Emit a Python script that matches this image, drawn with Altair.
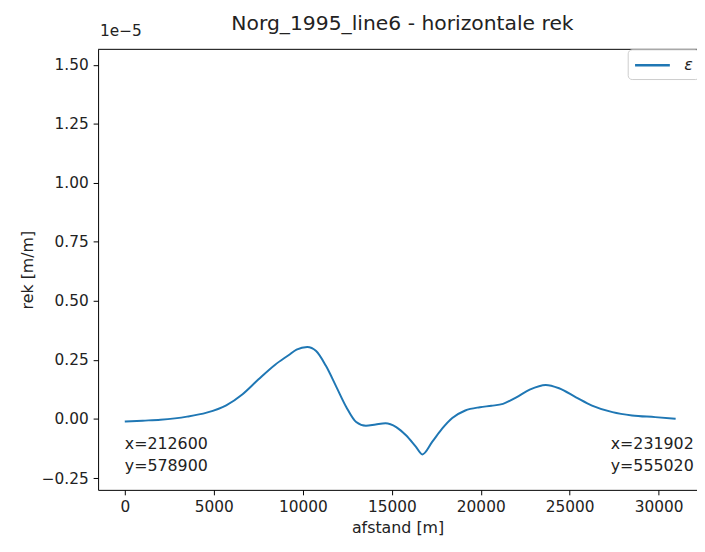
import altair as alt
import pandas as pd

# ---- data ----
distance = [0, 1000, 2000, 3500, 4600, 5700, 6600, 7500, 8450, 9200, 9650, 10250,
            10750, 11300, 11900, 12450, 13000, 13550, 14100, 14650, 15250, 15800,
            16350, 16720, 17280, 17830, 18400, 19130, 19950, 20600, 21250, 22000,
            22750, 23650, 24400, 25350, 26250, 27400, 28500, 29800, 30950]
strain = [-0.011, -0.007, -0.003, 0.010, 0.027, 0.058, 0.104, 0.167, 0.230, 0.270,
          0.294, 0.305, 0.288, 0.225, 0.134, 0.050, -0.013, -0.029, -0.023, -0.018,
          -0.034, -0.069, -0.117, -0.150, -0.096, -0.041, 0.004, 0.036, 0.050, 0.056,
          0.064, 0.092, 0.124, 0.144, 0.130, 0.092, 0.057, 0.029, 0.015, 0.008, 0.001]
series_name = "ε"

x_ticks = [0, 5000, 10000, 15000, 20000, 25000, 30000]
y_ticks = [-0.25, 0.0, 0.25, 0.5, 0.75, 1.0, 1.25, 1.5]

ann_x = [0, 27300]
ann_y = [-0.074, -0.074]
ann_text = ["x=212600\ny=578900", "x=231902\ny=555020"]

offset_label = ["1e\u22125"]
title_text = "Norg_1995_line6 - horizontale rek"

FONT = "DejaVu Sans"
W, H = 605, 445
BLUE = "#1f77b4"
TXT = "#222222"

df = pd.DataFrame({"afstand": distance, "rek": strain, "serie": [series_name] * len(distance)})
ann = pd.DataFrame({"afstand": ann_x, "rek": ann_y, "label": ann_text})
off = pd.DataFrame({"label": offset_label})

xscale = alt.Scale(domain=[-1500, 32150], nice=False, zero=False)
yscale = alt.Scale(domain=[-0.3, 1.565], nice=False, zero=False)

line = alt.Chart(df).mark_line(interpolate="monotone", strokeWidth=2, clip=True).encode(
    x=alt.X("afstand:Q", scale=xscale,
            axis=alt.Axis(values=x_ticks, format="d", title="afstand [m]", grid=False,
                          tickSize=5, tickColor="black", domainColor="black",
                          labelFontSize=15.5, labelColor=TXT, labelPadding=5,
                          titleFontSize=16, titleColor=TXT, titleFontWeight="normal",
                          titlePadding=5, labelFont=FONT, titleFont=FONT)),
    y=alt.Y("rek:Q", scale=yscale,
            axis=alt.Axis(values=y_ticks, format=".2f", title="rek [m/m]", grid=False,
                          tickSize=5, tickColor="black", domainColor="black",
                          labelFontSize=15.5, labelColor=TXT, labelPadding=5,
                          titleFontSize=16, titleColor=TXT, titleFontWeight="normal",
                          titlePadding=6, labelFont=FONT, titleFont=FONT)),
    color=alt.Color("serie:N", scale=alt.Scale(domain=[series_name], range=[BLUE]),
                    legend=alt.Legend(title=None, orient="none", legendX=535, legendY=0,
                                      fillColor="white", strokeColor="#cccccc",
                                      cornerRadius=4, padding=6,
                                      symbolType="M-2.1,0H2.1", symbolStrokeWidth=2.5,
                                      symbolSize=280, symbolOffset=9,
                                      labelFontSize=16,
                                      labelFontStyle="italic", labelFont=FONT,
                                      labelColor=TXT, labelOffset=22)),
)

texts = alt.Chart(ann).mark_text(align="left", baseline="top", lineBreak="\n",
                                 fontSize=16, lineHeight=22, font=FONT, color=TXT).encode(
    x=alt.X("afstand:Q", scale=xscale),
    y=alt.Y("rek:Q", scale=yscale),
    text="label:N",
)

offset_txt = alt.Chart(off).mark_text(align="left", baseline="middle", fontSize=15.5,
                                      font=FONT, color=TXT).encode(
    x=alt.value(2), y=alt.value(-18), text="label:N")

top_spine = alt.Chart(off).mark_rule(color="black", strokeWidth=1).encode(
    x=alt.value(0), x2=alt.value(W), y=alt.value(0))

chart = alt.layer(line, texts, offset_txt, top_spine).properties(
    width=W, height=H,
    title=alt.TitleParams(title_text, fontSize=20.5, font=FONT, fontWeight="normal",
                          color=TXT, anchor="middle", offset=-10, dx=5),
    autosize=alt.AutoSizeParams(type="none"),
    padding={"left": 91, "top": 39, "right": 0, "bottom": 60},
).configure_view(stroke="transparent")

chart.save("out.html", embed_options={"renderer": "svg", "actions": False})
